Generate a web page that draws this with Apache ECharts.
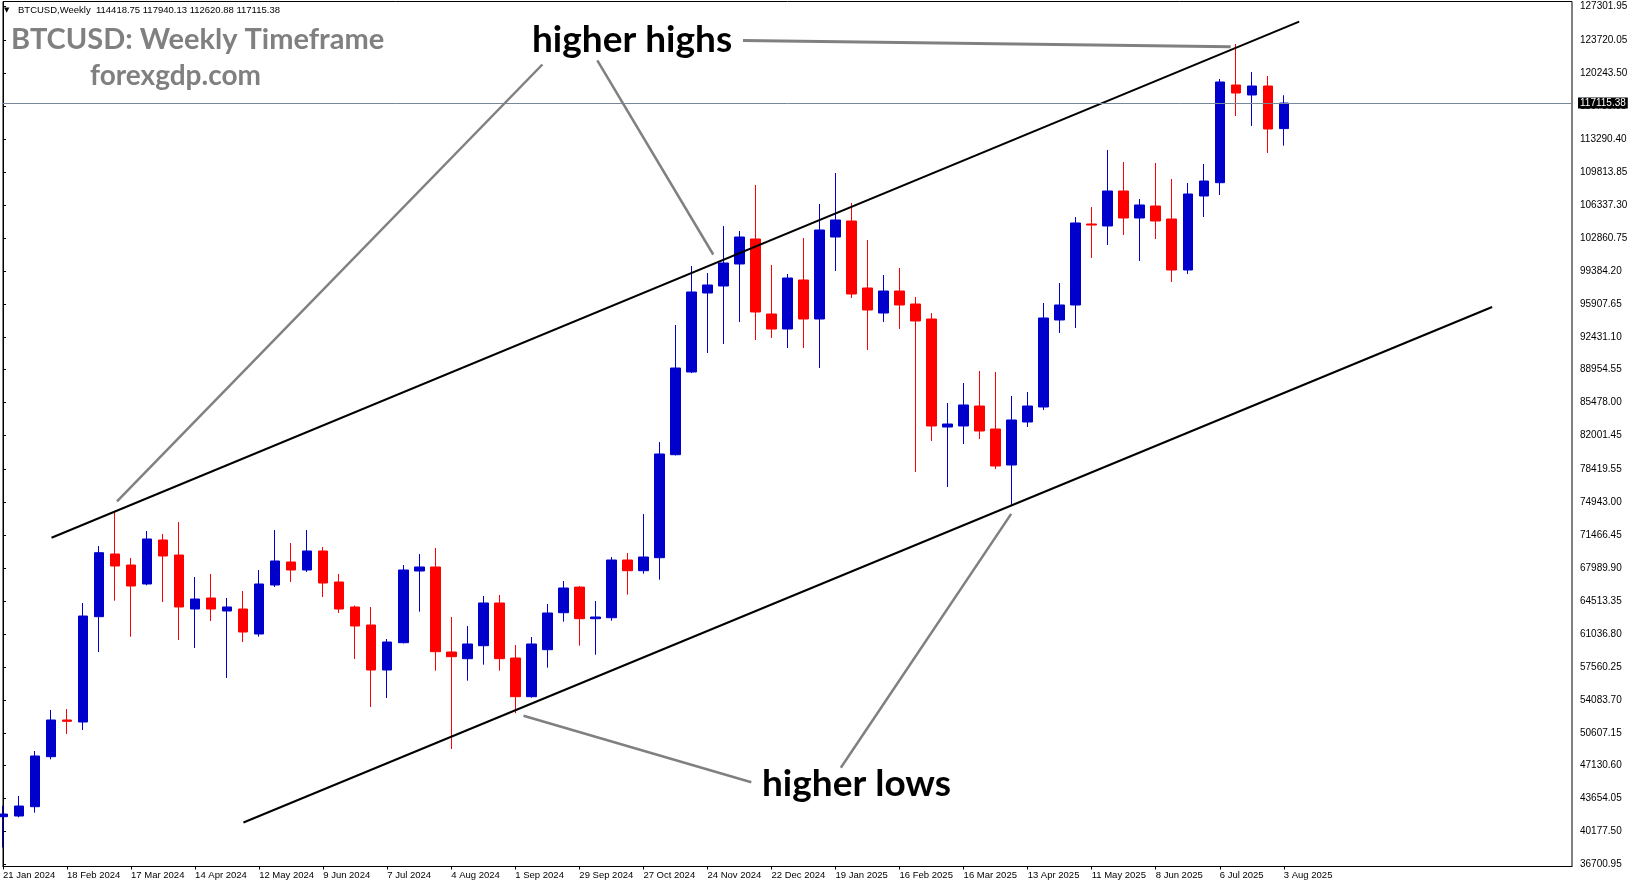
<!DOCTYPE html>
<html><head><meta charset="utf-8">
<script src="https://cdn.jsdelivr.net/npm/echarts@6/dist/echarts.min.js"></script>
<style>html,body{margin:0;padding:0;background:#fff;overflow:hidden}#c{width:1631px;height:888px}</style>
</head><body><div id="c"></div>
<script>
// ---- data ----
const weeks = [
 "21 Jan 2024","28 Jan 2024","4 Feb 2024","11 Feb 2024","18 Feb 2024","25 Feb 2024","3 Mar 2024","10 Mar 2024","17 Mar 2024","24 Mar 2024",
 "31 Mar 2024","7 Apr 2024","14 Apr 2024","21 Apr 2024","28 Apr 2024","5 May 2024","12 May 2024","19 May 2024","26 May 2024","2 Jun 2024",
 "9 Jun 2024","16 Jun 2024","23 Jun 2024","30 Jun 2024","7 Jul 2024","14 Jul 2024","21 Jul 2024","28 Jul 2024","4 Aug 2024","11 Aug 2024",
 "18 Aug 2024","25 Aug 2024","1 Sep 2024","8 Sep 2024","15 Sep 2024","22 Sep 2024","29 Sep 2024","6 Oct 2024","13 Oct 2024","20 Oct 2024",
 "27 Oct 2024","3 Nov 2024","10 Nov 2024","17 Nov 2024","24 Nov 2024","1 Dec 2024","8 Dec 2024","15 Dec 2024","22 Dec 2024","29 Dec 2024",
 "5 Jan 2025","12 Jan 2025","19 Jan 2025","26 Jan 2025","2 Feb 2025","9 Feb 2025","16 Feb 2025","23 Feb 2025","2 Mar 2025","9 Mar 2025",
 "16 Mar 2025","23 Mar 2025","30 Mar 2025","6 Apr 2025","13 Apr 2025","20 Apr 2025","27 Apr 2025","4 May 2025","11 May 2025","18 May 2025",
 "25 May 2025","1 Jun 2025","8 Jun 2025","15 Jun 2025","22 Jun 2025","29 Jun 2025","6 Jul 2025","13 Jul 2025","20 Jul 2025","27 Jul 2025",
 "3 Aug 2025"
];
// empty weeks to the right of the last bar (chart shift area)
const emptyWeeks = ["10 Aug 2025","17 Aug 2025","24 Aug 2025","31 Aug 2025","7 Sep 2025","14 Sep 2025","21 Sep 2025","28 Sep 2025","5 Oct 2025",
 "12 Oct 2025","19 Oct 2025","26 Oct 2025","2 Nov 2025","9 Nov 2025","16 Nov 2025","23 Nov 2025","30 Nov 2025","7 Dec 2025"];

const opens = [41750,41823,42805,48086,51962,51750,62871,69493,68331,66325,
 70971,69387,63684,64846,63473,63684,61044,66219,68648,67803,
 69810,66536,63896,61995,57242,60125,67697,68120,59143,58436,
 59808,64318,58509,54422,59386,63294,65997,62660,62765,68859,
 67729,69102,79980,88714,97057,97796,100120,102760,94839,93255,
 98430,94311,102971,104661,97585,94945,97268,95895,94311,82905,
 83011,85123,82694,78892,83433,85018,94206,95790,104344,104133,
 107829,104978,106245,104872,99486,107301,108706,119024,117968,118918,
 114418.75];
const highs = [42900,43935,48688,53018,53123,64318,70338,73929,69070,71922,
 71605,72872,67064,67381,64846,65585,67803,72028,70655,72028,
 70232,67381,64050,63896,60516,68331,69493,70127,62839,61889,
 65057,65163,59882,60727,64212,66641,66113,64529,69176,69599,
 73717,81321,93678,99909,99169,104133,103605,108463,100014,99064,
 102866,106457,109730,106562,102654,98958,99697,96635,94945,85440,
 87552,88820,88714,86179,86602,96001,98113,105083,106140,112159,
 110892,106984,110786,109097,108674,110681,119658,123354,120397,119974,
 117940.13];
const lows = [38500,41686,42172,47811,50483,50906,59143,64561,60759,66187,
 64424,60410,59566,62417,56397,60199,60759,66008,66536,67592,
 64952,63262,58404,53335,54285,60050,63399,57168,48899,56112,
 57802,57168,52669,54317,57485,62343,59808,58858,62449,65195,
 67412,66779,79900,88600,90721,91671,93994,92093,92305,91249,
 91249,89136,99381,96529,91037,93994,93255,78153,81427,76569,
 81110,81638,78470,74562,82905,84701,92833,93361,100753,102126,
 103183,100437,102760,98219,99064,105083,107407,115750,114694,111843,
 112620.88];
const closes = [42030,42879,48160,51962,51824,62945,69630,68226,66113,71077,
 69282,63896,64740,63684,63896,61255,66325,68754,67803,69810,
 66430,63684,61889,57242,60199,67803,68120,59175,58647,59988,
 64318,58436,54422,59988,63262,65902,62660,62839,68859,67729,
 69176,80054,89136,97163,97902,100225,102971,95051,93255,98641,
 94311,103711,104767,96952,95262,97268,95790,94100,83011,83222,
 85229,82483,78787,83645,85123,94417,95790,104450,104238,107829,
 104978,106351,104661,99486,107513,108885,119341,118179,118918,114377,
 117115.38];

const yTickValues = [127301.95,123720.05,120243.50,116766.95,113290.40,109813.85,106337.30,102860.75,99384.20,95907.65,
 92431.10,88954.55,85478.00,82001.45,78419.55,74943.00,71466.45,67989.90,64513.35,61036.80,57560.25,54083.70,50607.15,
 47130.60,43654.05,40177.50,36700.95];

const symbolName = "BTCUSD,Weekly";

// drawn lines, as [bar index, price]
const upperChannel = [[3.03, 71214], [80.96, 125709]];
const lowerChannel = [[15.02, 41137], [93.01, 95579]];
const highsPointerA = [[33.69, 121189], [7.12, 75048]];
const highsPointerB = [[37.12, 121633], [44.36, 101123]];
const highsPointerC = [[46.22, 123713], [76.68, 123058]];
const lowsPointerA = [[46.74, 45382], [32.51, 52416]];
const lowsPointerB = [[52.33, 46924], [62.97, 73728]];

// ---- chart ----
const chart = echarts.init(document.getElementById('c'), null, {renderer: 'canvas'});
const categories = weeks.concat(emptyWeeks);
const lastIdx = weeks.length - 1;
const showIdx = (i) => i % 4 === 0 && i <= lastIdx;
const last = (a) => a[a.length - 1];
const fmt = (v) => v.toFixed(2);
const axisFont = {fontFamily: 'Liberation Sans', fontSize: 9.5, color: '#000'};

const grayLine = (d, w) => ({type: 'line', xAxisIndex: 1, yAxisIndex: 0, data: d, symbol: 'none', silent: true,
  lineStyle: {color: '#808080', width: w || 2.5}, z: 5});
const blackLine = (d) => ({type: 'line', xAxisIndex: 1, yAxisIndex: 0, data: d, symbol: 'none', silent: true,
  lineStyle: {color: '#000', width: 2}, z: 4});

const option = {
  animation: false,
  backgroundColor: '#fff',
  grid: {left: 2.5, top: 1.5, width: 1569.5, height: 865, show: true, borderColor: '#000', borderWidth: 1, backgroundColor: '#fff'},
  xAxis: [
    {type: 'category', data: categories, boundaryGap: false,
     axisLine: {show: true, lineStyle: {color: '#000', width: 1}},
     axisTick: {show: true, interval: showIdx, length: 3, lineStyle: {color: '#000'}},
     axisLabel: Object.assign({interval: showIdx, align: 'left', margin: 4}, axisFont),
     splitLine: {show: false}},
    {type: 'value', min: 0, max: categories.length - 1, show: false}
  ],
  yAxis: {type: 'value', position: 'right', min: 36489.7, max: 127842.4,
    axisLine: {show: true, lineStyle: {color: '#000', width: 1}},
    axisTick: {show: true, customValues: yTickValues, length: 3, lineStyle: {color: '#000'}},
    axisLabel: Object.assign({customValues: yTickValues, formatter: fmt, margin: 8}, axisFont, {fontSize: 10}),
    splitLine: {show: false}},
  series: [
    {type: 'candlestick', xAxisIndex: 0, yAxisIndex: 0,
     data: opens.map((o, i) => [o, closes[i], lows[i], highs[i]]),
     barWidth: 10, z: 3,
     itemStyle: {color: '#0000CC', color0: '#FF0000', borderColor: '#0000CC', borderColor0: '#FF0000', borderWidth: 1},
     markLine: {silent: true, symbol: ['none', 'none'], animation: false,
       data: [{yAxis: last(closes)}],
       lineStyle: {color: '#778899', width: 1, type: 'solid'},
       label: {show: true, position: 'end', formatter: () => fmt(last(closes)), color: '#fff', backgroundColor: '#000',
         padding: [1, 2, 0, 2], fontFamily: 'Liberation Sans', fontSize: 10, distance: 6}}},
    blackLine(upperChannel),
    blackLine(lowerChannel),
    grayLine(highsPointerA),
    grayLine(highsPointerB),
    grayLine(highsPointerC, 3),
    grayLine(lowsPointerA),
    grayLine(lowsPointerB)
  ],
  graphic: [
    {type: 'text', x: 4, y: 10, style: {text: '▼', font: '7px "DejaVu Sans"', fill: '#000', verticalAlign: 'middle', textVerticalAlign: 'middle'}},
    {type: 'text', x: 18, y: 10.5, style: {text: symbolName + '  ' + [last(opens), last(highs), last(lows), last(closes)].map(fmt).join(' '),
      font: '9.5px "Liberation Sans"', fill: '#000', verticalAlign: 'middle', textVerticalAlign: 'middle'}},
    {type: 'text', x: 11, y: 40, style: {text: 'BTCUSD: Weekly Timeframe', font: 'bold 29px Lato', fill: '#808080', verticalAlign: 'middle', textVerticalAlign: 'middle'}},
    {type: 'text', x: 90, y: 76, style: {text: 'forexgdp.com', font: 'bold 28px Lato', fill: '#808080', verticalAlign: 'middle', textVerticalAlign: 'middle'}},
    {type: 'text', x: 532, y: 40, style: {text: 'higher highs', font: 'bold 37px Lato', fill: '#000', verticalAlign: 'middle', textVerticalAlign: 'middle'}},
    {type: 'text', x: 762, y: 784, style: {text: 'higher lows', font: 'bold 37px Lato', fill: '#000', verticalAlign: 'middle', textVerticalAlign: 'middle'}}
  ]
};
chart.setOption(option);
</script>
</body></html>
